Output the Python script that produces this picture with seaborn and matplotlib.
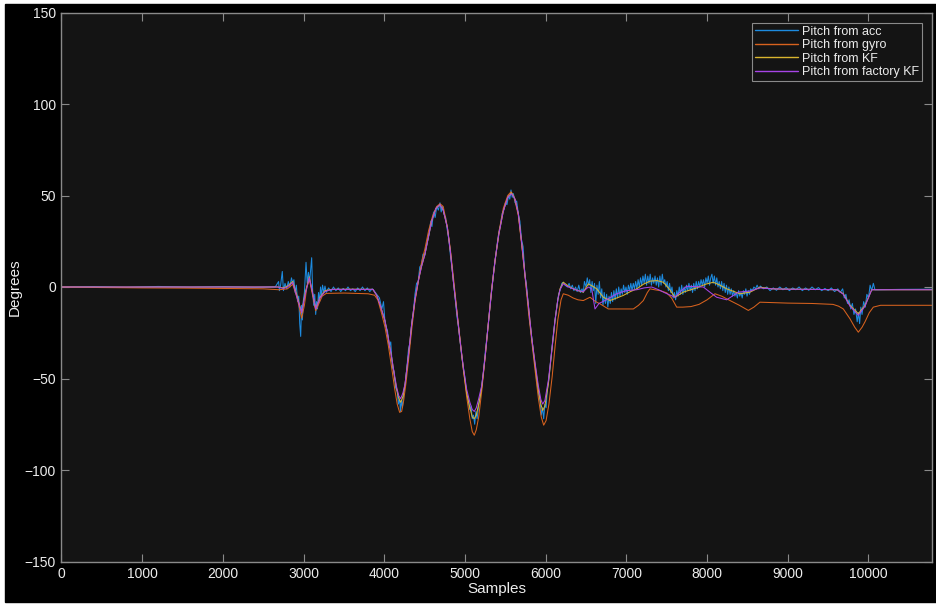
"""Pitch estimates (acc / gyro / KF / factory KF) over samples, MATLAB dark style."""
import matplotlib

matplotlib.use("Agg")
import matplotlib.pyplot as plt  # noqa: E402
import pandas as pd  # noqa: E402
import seaborn as sns  # noqa: E402
from matplotlib.patches import Rectangle  # noqa: E402

# ---------------------------------------------------------------------------
# values (sample index, pitch in degrees)
ACC_X = [
    0, 400, 800, 1200, 1600, 2000, 2400, 2650,
    2690, 2700, 2715, 2736, 2750, 2770, 2790, 2810, 2830, 2850, 2865, 2880,
    2895, 2910, 2925, 2940, 2952, 2964, 2975, 2985, 2995, 3010, 3020, 3030,
    3045, 3060, 3075, 3088, 3100, 3112, 3125, 3138, 3150, 3160, 3172, 3185,
    3198, 3210, 3222, 3235, 3250, 3265, 3280,
    3310, 3340, 3370, 3400, 3430, 3460, 3490, 3520, 3550, 3580, 3610, 3640,
    3670, 3700, 3730, 3760, 3790, 3820, 3850, 3880, 3906,
    3940, 3970, 3990, 4010, 4040, 4060, 4080, 4100, 4120, 4140, 4160, 4175,
    4190, 4200, 4212, 4225, 4240, 4257, 4280, 4300, 4320, 4340, 4360, 4380,
    4400, 4420, 4440, 4460, 4480, 4500, 4520, 4540, 4560, 4575, 4590, 4610,
    4630, 4650, 4670, 4690, 4705, 4720, 4740, 4760, 4781, 4800, 4820, 4840,
    4855, 4880, 4900, 4920, 4940, 4960, 4980, 5000, 5020, 5040, 5060, 5075,
    5090, 5105, 5120, 5135, 5150, 5170, 5190, 5207, 5230, 5250, 5270, 5290,
    5310, 5330, 5350, 5372, 5400, 5420, 5440, 5460, 5480, 5500, 5520, 5540,
    5555, 5570, 5585, 5600, 5620, 5640, 5661, 5680, 5700, 5720, 5743, 5760,
    5780, 5800, 5826, 5850, 5870, 5890, 5910, 5930, 5945, 5960, 5975, 5990,
    6005, 6020, 6040, 6060, 6080, 6100, 6115, 6140, 6160, 6177, 6200, 6218,
    6240,
    6270, 6290, 6310, 6330, 6350, 6370, 6390, 6410, 6430, 6450, 6466, 6480,
    6500, 6515, 6530, 6545, 6560, 6575, 6590, 6605, 6620, 6635, 6650, 6665,
    6680, 6695, 6710, 6725, 6740, 6755, 6770, 6785, 6800, 6815, 6830, 6845,
    6860, 6875, 6890, 6905, 6920, 6935, 6950, 6965, 6980, 6995, 7010, 7025,
    7040, 7055, 7070, 7085, 7100, 7115, 7130, 7145, 7160, 7175, 7190, 7205,
    7220, 7235, 7250, 7265, 7280, 7295, 7310, 7325, 7340, 7355, 7370, 7385,
    7400, 7415, 7430, 7445, 7460, 7475, 7490, 7505, 7520, 7535, 7550, 7565,
    7580, 7595, 7610, 7625, 7640, 7655, 7670, 7685, 7700, 7715, 7730, 7745,
    7760, 7775, 7790, 7805, 7820, 7835, 7850, 7865, 7880, 7895, 7910, 7925,
    7940, 7955, 7970, 7985, 8000, 8015, 8030, 8045, 8060, 8075, 8090, 8105,
    8120, 8135, 8150, 8165, 8180, 8195, 8210, 8225, 8240, 8255, 8270, 8285,
    8300, 8315, 8330, 8345, 8360, 8375, 8390, 8405, 8420, 8435, 8450, 8465,
    8480, 8495, 8510, 8525, 8540, 8560, 8580, 8600, 8620, 8640, 8660,
    8700, 8740, 8780, 8820, 8860, 8900, 8940, 8980, 9020, 9060, 9100, 9140,
    9180, 9220, 9260, 9300, 9340, 9380, 9420, 9460, 9500, 9540, 9580, 9620,
    9650,
    9680, 9700, 9720, 9740, 9760, 9780, 9800, 9820, 9840, 9860, 9875, 9890,
    9905, 9920, 9940, 9960, 9980, 10000, 10020, 10040, 10060, 10080,
    10100, 10400, 10787,
]
ACC_Y = [
    0, 0.2, -0.2, 0.3, -0.1, 0.2, -0.2, 0.1,
    3, -2, 1, 8.5, -2, 2, -1, 3, 0, 5, 2, 4,
    -3, 1, -8, -5, -20, -27, -10, -18, -8, -3, 5, 13.5,
    2, 8, 3, 10, 16, -2, -10, -4, -15, -8, -12, -3,
    -8, 0, -5, 1, -3, 0.5, -3,
    -0.5, -2.5, 0, -2, -0.5, -2.5, -0.8, -2, 0, -2, -1, -2.5,
    -0.5, -2, 0, -2, -0.5, -2.5, -1, -2.5, -4,
    -6, -12, -8, -20, -24, -33, -30, -44, -46, -55, -57, -64,
    -61, -68, -62, -66, -58, -54, -44, -34, -30, -20, -14, -4,
    2, 3, 11, 12, 18, 17, 22, 26, 30, 36, 33, 41,
    38, 44, 42, 46, 41, 44, 40, 38, 31, 26, 17, 10,
    4, -7, -16, -22, -30, -38, -44, -50, -58, -62, -67, -65,
    -72, -70, -75, -68, -72, -64, -60, -54, -46, -36, -28, -20,
    -10, -2, 6, 14, 24, 30, 34, 40, 42, 46, 45, 50,
    48, 53, 49, 51, 46, 47, 40, 36, 26, 22, 6, 2,
    -8, -18, -27, -37, -44, -52, -58, -62, -70, -66, -72, -64,
    -66, -56, -50, -41, -32, -24, -18, -10, -4, -2, 2, 2.6,
    1,
    0, 2, -1, 1, -2, 0, -2.5, 1, -3, -1, -3, 3,
    0, 5, 1, 4, -3, 3, -2, 2, -9, 1, -4, 3,
    -6, -1, -10, -3, -9, -4, -11, -5, -9, -3, -8, -2,
    -7, -1, -6, 0, -5, -1, -4, 1, -3, 0, -4, 1,
    -2, 2, -2, 2, -1, 3, -1, 4, 0, 5, 1, 6,
    2, 7, 1, 6, 2, 7, 1, 5, 2, 6, 1, 5,
    0, 6, 1, 7, 2, 4, 0, 3, -2, 2, -3, 0,
    -6, -3, -7, -2, -5, 0, -4, 1, -4, 0, -3, 1,
    -2, 2, -2, 1, -3, 2, -2, 3, -1, 3, 0, 4,
    1, 4, 0, 5, 2, 6, 1, 5, 7, 2, 6, 1,
    5, 0, 3, -1, 3, -2, 2, -3, 1, -4, 0, -4,
    -1, -5, -2, -5, -3, -6, -2, -5, -3, -6, -2, -4,
    -1, -5, -2, -4, -1, -2, 0, -1, 1, -1, 0.5,
    -1, 0, -2, -0.5, -1.8, 0, -1.5, -0.3, -2, -0.5, -1.5, 0,
    -2, -0.5, -1.8, 0, -1.5, -0.3, -2, -0.8, -2, -0.5, -2.5, -1,
    -3,
    -1, -6, -4, -9, -7, -12, -9, -15, -12, -19, -14, -20,
    -11, -15, -8, -11, -4, -6, 1, -2, 2, -1.5,
    -1.5, -1.3, -1.2,
]

GYRO_X = [
    0, 500, 1000, 1500, 2000, 2500, 2700, 2800, 2865, 2920, 2976, 3010,
    3040, 3071, 3100, 3150, 3190, 3230, 3280, 3500, 3800, 3880, 3920, 3970,
    4009, 4050, 4091, 4130, 4160, 4190, 4215, 4240, 4270, 4300, 4340, 4380,
    4422, 4460, 4504, 4550, 4600, 4650, 4690, 4730, 4781, 4820, 4855, 4900,
    4938, 4980, 5021, 5060, 5090, 5115, 5140, 5170, 5207, 5250, 5289, 5330,
    5372, 5420, 5475, 5530, 5570, 5610, 5661, 5700, 5743, 5790, 5826, 5870,
    5910, 5945, 5975, 6005, 6040, 6080, 6115, 6150, 6190, 6218, 6280, 6340,
    6400, 6466, 6549, 6620, 6673, 6776, 6900, 7000, 7086, 7150, 7210, 7260,
    7292, 7350, 7420, 7500, 7560, 7623, 7700, 7800, 7900, 8000, 8098, 8180,
    8284, 8400, 8511, 8580, 8655, 8800, 9000, 9300, 9560, 9630, 9688, 9771,
    9830, 9874, 9920, 9957, 10010, 10060, 10150, 10500, 10787,
]
GYRO_Y = [
    0, -0.3, -0.5, -0.6, -0.8, -1, -1.5, -1, 1.5, -6, -17, -10,
    0, 4, -2, -13, -9, -5, -3.5, -3.3, -3.7, -4.5, -7, -15,
    -22, -32, -44, -56, -64, -68.5, -68, -62, -52, -40, -23, -8,
    3, 13, 21, 31, 39, 44, 45.5, 44, 33, 20, 6, -13,
    -28, -45, -60, -72, -79, -81, -78, -71, -57, -38, -20, -1,
    14, 30, 43, 50, 52, 49, 39, 24, 6, -15, -29, -46,
    -61, -71, -75.5, -73, -64, -49, -33, -18, -7, -3.7, -4.5, -6,
    -7, -7.4, -5.6, -8, -9.2, -12, -12, -12, -12, -10, -7.4, -3,
    -1, -1.5, -2, -3.2, -6, -11, -11, -10.7, -9.5, -7, -3.7, -5,
    -7.4, -10, -12.8, -11, -8.3, -8.5, -8.8, -9, -9.5, -10.5, -12, -17.4,
    -22, -24.7, -22, -19, -14, -11, -10, -10, -10,
]

KF_X = [
    0, 2680, 2750, 2800, 2865, 2920, 2976, 3020, 3071, 3110, 3150, 3203,
    3265, 3350, 3600, 3860, 3906, 3950, 4009, 4050, 4091, 4130, 4154, 4180,
    4203, 4230, 4257, 4300, 4340, 4380, 4422, 4460, 4504, 4550, 4587, 4640,
    4690, 4730, 4781, 4820, 4855, 4900, 4938, 4980, 5021, 5060, 5090, 5115,
    5140, 5170, 5207, 5250, 5289, 5330, 5372, 5420, 5475, 5530, 5578, 5620,
    5661, 5700, 5743, 5790, 5826, 5870, 5909, 5940, 5963, 5990, 6033, 6075,
    6115, 6150, 6177, 6218, 6280, 6342, 6400, 6466, 6528, 6580, 6632, 6714,
    6797, 6880, 6962, 7050, 7128, 7210, 7292, 7380, 7457, 7530, 7602, 7705,
    7871, 7980, 8077, 8160, 8243, 8408, 8532, 8655, 8800, 9000, 9300, 9610,
    9688, 9771, 9874, 9957, 10040, 10787,
]
KF_Y = [
    0, 0, -0.5, 0.5, 3, -5, -14, -3, 5.5, -3, -12, -5.6,
    -2, -1.3, -1.2, -1.3, -4.6, -10, -18.5, -28, -38.5, -50, -56, -61,
    -63, -60, -53, -37, -20, -7, 3.5, 11, 18, 28, 36, 43,
    45, 42, 32.6, 19, 3.5, -14, -29, -45, -58, -66, -71, -72,
    -70, -64, -55, -38, -20, -2, 14.5, 29, 41.5, 49, 51.5, 48,
    40, 25, 7, -12, -27.5, -43, -56, -64, -67.5, -65, -53, -35,
    -18.5, -7, -1, 2.6, 0.5, -1, -2, -2.8, 1.7, 0.5, -1, -5.6,
    -7.4, -6, -4.6, -2.5, -1, 1.5, 3.2, 3.5, 2.6, -1, -5.6, -2.8,
    -0.5, 1.5, 2.6, 1, -1, -3.7, -2.8, -0.1, -1, -1.2, -1.3, -1.5,
    -3.7, -10, -14.6, -10, -1.5, -1.5,
]

FKF_X = [
    0, 2680, 2750, 2800, 2865, 2920, 2976, 3020, 3071, 3110, 3150, 3203,
    3265, 3350, 3600, 3860, 3906, 3950, 4009, 4050, 4091, 4130, 4154, 4180,
    4203, 4230, 4257, 4300, 4340, 4380, 4422, 4460, 4504, 4550, 4587, 4640,
    4690, 4730, 4781, 4820, 4855, 4900, 4938, 4980, 5021, 5060, 5090, 5115,
    5140, 5170, 5207, 5250, 5289, 5330, 5372, 5420, 5475, 5530, 5578, 5620,
    5661, 5700, 5743, 5790, 5826, 5870, 5909, 5940, 5963, 5990, 6033, 6075,
    6115, 6150, 6177, 6218, 6280, 6342, 6400, 6466, 6528, 6570, 6611, 6660,
    6735, 6880, 7000, 7128, 7220, 7313, 7400, 7478, 7602, 7680, 7747, 7953,
    8040, 8119, 8243, 8387, 8532, 8655, 8800, 9000, 9300, 9610, 9688, 9771,
    9874, 9957, 10040, 10787,
]
FKF_Y = [
    0, 0, -0.8, 0, 2.5, -6, -14, -4, 5, -3, -12, -6,
    -2.5, -1.3, -1.3, -1.3, -4.6, -10, -18.5, -28, -38.5, -49, -55, -59.5,
    -61, -58, -53, -37, -20, -7, 3.5, 11, 18, 28, 36, 43,
    45, 42, 32.6, 19, 3.5, -14, -29, -44, -56, -63, -67, -68,
    -66, -61, -54, -38, -20, -2, 14.5, 29, 41.5, 49, 51, 48,
    40, 25, 7, -12, -27.5, -42, -54, -61.5, -64, -62, -51, -35,
    -18.5, -7, -1.5, 1.8, 0, -1, -2, -2.5, 0, -1, -12, -9,
    -7.4, -3.7, -2, -1.5, -0.5, 0, -1.5, -3.2, -5.6, -2, 0.4, 0,
    -3, -5.6, -7, -2.8, -2.2, -0.5, -1, -1.2, -1.3, -1.5, -4, -10.5,
    -15.5, -10.5, -1.5, -1.5,
]

SERIES = {
    "Pitch from acc": (ACC_X, ACC_Y),
    "Pitch from gyro": (GYRO_X, GYRO_Y),
    "Pitch from KF": (KF_X, KF_Y),
    "Pitch from factory KF": (FKF_X, FKF_Y),
}
COLORS = {
    "Pitch from acc": "#1d8be0",
    "Pitch from gyro": "#d8621e",
    "Pitch from KF": "#d9b52e",
    "Pitch from factory KF": "#a744e6",
}
X_MAX = 10787

# ---------------------------------------------------------------------------
sns.set_theme(style="dark")
plt.rcParams["font.family"] = ["Liberation Sans", "DejaVu Sans"]

AX_BG = "#141414"
GRID_C = "#8a8a8a"
TXT_C = "#ececec"

fig = plt.figure(figsize=(9.37, 6.06), dpi=100)
fig.patch.set_facecolor("white")
fig.add_artist(Rectangle((5 / 937, 4 / 606), 932 / 937, 598 / 606,
                         transform=fig.transFigure, color="black", zorder=-1))
ax = fig.add_axes([61.5 / 937, 1 - 561.5 / 606, (932 - 61.5) / 937,
                   (561.5 - 12.5) / 606])
ax.set_facecolor(AX_BG)

frames = []
for name, (xs, ys) in SERIES.items():
    frames.append(pd.DataFrame({"sample": xs, "pitch": ys, "series": name}))
df = pd.concat(frames, ignore_index=True)

for name in SERIES:
    sns.lineplot(data=df[df["series"] == name], x="sample", y="pitch",
                 color=COLORS[name], lw=0.75, sort=False, estimator=None,
                 label=name, ax=ax)

ax.set_xlim(0, X_MAX)
ax.set_ylim(-150, 150)
ax.set_xticks(range(0, 10001, 1000))
ax.set_yticks(range(-150, 151, 50))
ax.set_xlabel("Samples", fontsize=11, color=TXT_C, labelpad=1)
ax.set_ylabel("Degrees", fontsize=11, color=TXT_C, labelpad=2)
ax.tick_params(axis="both", which="major", direction="in", length=6,
               width=0.8, color=GRID_C, labelcolor=TXT_C, labelsize=10,
               top=True, right=True, bottom=True, left=True, pad=4)
ax.grid(False)
for sp in ax.spines.values():
    sp.set_visible(True)
    sp.set_color(GRID_C)
    sp.set_linewidth(1.0)

leg = ax.legend(loc="upper right", fontsize=9, frameon=True, fancybox=False,
                framealpha=1.0, facecolor=AX_BG, edgecolor=GRID_C,
                handlelength=3.4, handletextpad=0.3, labelspacing=0.12,
                borderpad=0.25, borderaxespad=0.8)
leg.get_frame().set_linewidth(0.8)
for t in leg.get_texts():
    t.set_color(TXT_C)
for h, name in zip(leg.get_lines(), SERIES):
    h.set_color(COLORS[name])
    h.set_linewidth(1.0)

fig.savefig("out.png", dpi=100, facecolor=fig.get_facecolor())
plt.close(fig)
